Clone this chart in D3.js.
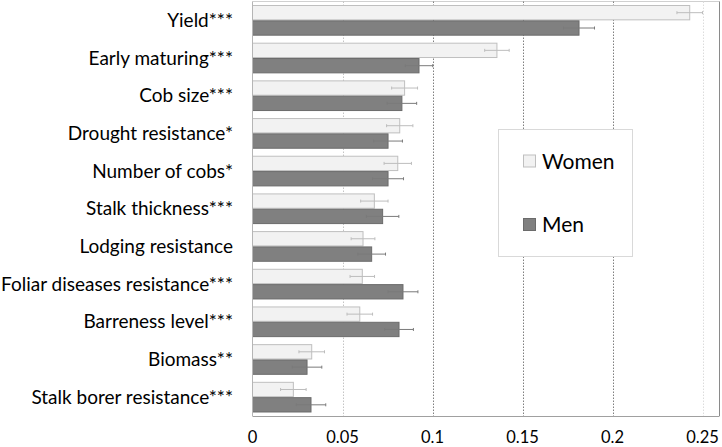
<!DOCTYPE html>
<html><head><meta charset="utf-8">
<script src="https://cdn.jsdelivr.net/npm/d3@7/dist/d3.min.js"></script>
<style>body{margin:0;background:#fff}svg{display:block}</style>
</head><body>
<svg id="c" width="722" height="447"></svg>
<script>
const categories = ["Yield***","Early maturing***","Cob size***","Drought resistance*","Number of cobs*","Stalk thickness***","Lodging resistance","Foliar diseases resistance***","Barreness level***","Biomass**","Stalk borer resistance***"];
const seriesNames = ["Women","Men"];
const women = [0.2429,0.1358,0.0845,0.0818,0.0807,0.0677,0.0614,0.0610,0.0596,0.0329,0.0227];
const men   = [0.1814,0.0925,0.0830,0.0753,0.0753,0.0723,0.0662,0.0836,0.0814,0.0303,0.0325];
const womenErr = [0.0071,0.0068,0.0072,0.0073,0.0076,0.0076,0.0066,0.0068,0.0071,0.0071,0.0071];
const menErr   = [0.0086,0.0076,0.0082,0.0080,0.0086,0.0090,0.0077,0.0083,0.0080,0.0082,0.0082];
const tickValues = [0,0.05,0.1,0.15,0.2,0.25];
const tickLabels = ["0","0.05","0.1","0.15","0.2","0.25"];

(function(){
const svg = d3.select("#c");
const pL = 252.5, pR = 719.5, pT = 1.5, pB = 416;
const x = d3.scaleLinear().domain([0,0.25]).range([pL, 702.5]);
const p = 0.186;
const y = d3.scaleBand().domain(categories).range([pT,pB]).paddingInner(p).paddingOuter(p/2);
const ys = d3.scaleBand().domain(seriesNames).range([0,y.bandwidth()]);

const data = categories.map((c,i)=>({c, vals:[{s:"Women",v:women[i],e:womenErr[i]},{s:"Men",v:men[i],e:menErr[i]}]}));
const fills = {Women:"#f2f2f2", Men:"#808080"};
const strokes = {Women:"#bfbfbf", Men:"#6b6b6b"};
const errCol = {Women:"#bdbdbd", Men:"#7a7a7a"};

svg.append("line").attr("x1",pL).attr("x2",pR).attr("y1",pT).attr("y2",pT).attr("stroke","#d0d0d0");
const gridCol = ["none","#c4c4c4","#7f7f7f","#7f7f7f","#7f7f7f","#dcdcdc"];
svg.append("g").selectAll("line").data(tickValues).join("line")
  .attr("x1",d=>Math.round(x(d))+0.5).attr("x2",d=>Math.round(x(d))+0.5)
  .attr("y1",pT).attr("y2",pB)
  .attr("stroke",(d,i)=>gridCol[i]).attr("stroke-dasharray","1.5,1.5");

const g = svg.append("g").selectAll("g").data(data).join("g")
  .attr("transform",d=>`translate(0,${y(d.c)})`);
g.selectAll("rect").data(d=>d.vals).join("rect")
  .attr("x",x(0)).attr("y",d=>ys(d.s)+0.5)
  .attr("width",d=>x(d.v)-x(0)).attr("height",ys.bandwidth()-1)
  .attr("fill",d=>fills[d.s]).attr("stroke",d=>strokes[d.s]).attr("stroke-width",1);
const eb = g.selectAll("g.eb").data(d=>d.vals).join("g").attr("class","eb");
eb.append("line")
  .attr("x1",d=>x(d.v-d.e)).attr("x2",d=>x(d.v+d.e))
  .attr("y1",d=>ys(d.s)+ys.bandwidth()/2).attr("y2",d=>ys(d.s)+ys.bandwidth()/2)
  .attr("stroke",d=>errCol[d.s]).attr("stroke-width",1);
[-1,1].forEach(k=>{
  eb.append("line")
    .attr("x1",d=>x(d.v+k*d.e)).attr("x2",d=>x(d.v+k*d.e))
    .attr("y1",d=>ys(d.s)+ys.bandwidth()/2-1.5).attr("y2",d=>ys(d.s)+ys.bandwidth()/2+1.5)
    .attr("stroke",d=>errCol[d.s]).attr("stroke-width",1);
});

svg.append("line").attr("x1",pL).attr("x2",pL).attr("y1",pT).attr("y2",pB).attr("stroke","#b5b5b5");
svg.append("line").attr("x1",pL).attr("x2",pR).attr("y1",pB+0.5).attr("y2",pB+0.5).attr("stroke","#a0a0a0");
svg.append("line").attr("x1",pR).attr("x2",pR).attr("y1",pT).attr("y2",pB).attr("stroke","#8a8a8a");

const font = "Lato, 'Open Sans', sans-serif";
svg.append("g").selectAll("text").data(categories).join("text")
  .attr("x",233).attr("y",d=>y(d)+y.bandwidth()/2+6.5)
  .attr("text-anchor","end").attr("font-family",font).attr("font-size",19).attr("fill","#000")
  .text(d=>d);

svg.append("g").selectAll("text").data(tickValues).join("text")
  .attr("x",d=>x(d)).attr("y",442.5)
  .attr("text-anchor","middle").attr("font-family",font).attr("font-size",16.5).attr("fill","#000")
  .text((d,i)=>tickLabels[i]);

const lg = svg.append("g");
lg.append("rect").attr("x",498.5).attr("y",129.5).attr("width",134).attr("height",127)
  .attr("fill","#fff").attr("stroke","#d9d9d9");
const ly = {Women:161, Men:224.5};
seriesNames.forEach(s=>{
  lg.append("rect").attr("x",523.5).attr("y",ly[s]-6).attr("width",12).attr("height",12)
    .attr("fill",fills[s]).attr("stroke",strokes[s]);
  lg.append("text").attr("x",542).attr("y",ly[s]+7.5)
    .attr("font-family",font).attr("font-size",21).attr("fill","#000").text(s);
});
})();
</script>
</body></html>
